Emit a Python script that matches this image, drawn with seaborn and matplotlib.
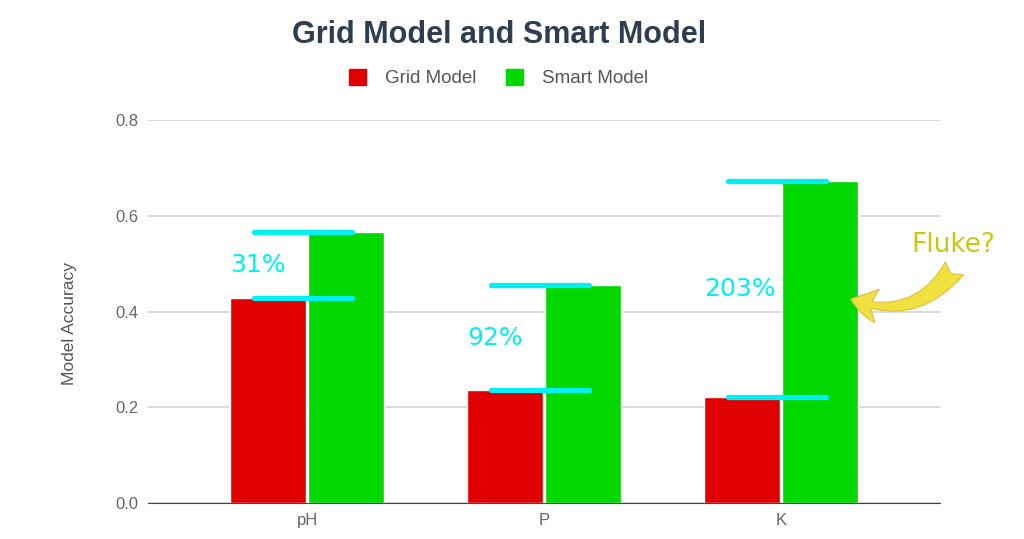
import pandas as pd
import matplotlib.pyplot as plt
import seaborn as sns

# Data
nutrients = ['pH', 'P', 'K']
grid_acc = [0.428, 0.236, 0.221]
smart_acc = [0.566, 0.455, 0.673]
gain_labels = ['31%', '92%', '203%']

df = pd.DataFrame({
    'Nutrient': nutrients * 2,
    'Accuracy': grid_acc + smart_acc,
    'Model': ['Grid Model'] * 3 + ['Smart Model'] * 3,
})

sns.set_style('white')
plt.rcParams['font.family'] = ['Liberation Sans', 'DejaVu Sans']

fig = plt.figure(figsize=(10.24, 5.39), dpi=100)
ax = fig.add_axes([0.1445, 0.0668, 0.7735, 0.7105])

sns.barplot(data=df, x='Nutrient', y='Accuracy', hue='Model',
            palette={'Grid Model': '#e00000', 'Smart Model': '#00d800'},
            saturation=1, width=0.66, gap=0.025, ax=ax, legend=False)

ax.set_ylim(0, 0.8)
ax.set_xlim(-0.672, 2.672)
ax.set_yticks([0, 0.2, 0.4, 0.6, 0.8])
ax.set_yticklabels(['0.0', '0.2', '0.4', '0.6', '0.8'])
ax.yaxis.grid(True, color='#d4d4d4', linewidth=1.2)
ax.set_axisbelow(True)
for side in ['top', 'right', 'left']:
    ax.spines[side].set_visible(False)
ax.spines['bottom'].set_color('#444444')
ax.tick_params(axis='both', length=0, colors='#666666', labelsize=12, pad=7)
ax.set_xlabel('')
ax.set_ylabel('Model Accuracy', color='#555555', fontsize=12.5)
ax.yaxis.set_label_coords(-0.09, 0.47)

# Cyan markers showing the improvement
for i, (g, s, lab) in enumerate(zip(grid_acc, smart_acc, gain_labels)):
    ax.hlines([g, s], i - 0.224, i + 0.19, color='#00f0f4', linewidth=3.8,
              capstyle='round')
    ax.text(i - 0.325, (g + s) / 2, lab, color='#00f0f4', fontsize=18,
            family=['DejaVu Sans'], ha='left', va='center')

# Fluke annotation
ax.annotate('', xy=(2.285, 0.428), xytext=(2.74, 0.495),
            arrowprops=dict(arrowstyle='fancy,head_length=0.6,head_width=0.75,tail_width=0.5',
                            connectionstyle='arc3,rad=-0.4', mutation_scale=32,
                            fc='#f0e040', ec='#e0c040', lw=0.8),
            annotation_clip=False)
fig.text(0.931, 0.545, 'Fluke?', color='#c8c814', fontsize=19,
         family=['DejaVu Sans'], ha='center', va='center')

# Title and legend
fig.text(0.487, 0.935, 'Grid Model and Smart Model', fontsize=22, fontweight='bold',
         color='#2e3e50', ha='center', va='center')
handles = [plt.Rectangle((0, 0), 1, 1, color='#e00000'),
           plt.Rectangle((0, 0), 1, 1, color='#00d800')]
leg = fig.legend(handles, ['Grid Model', 'Smart Model'], loc='center',
                 bbox_to_anchor=(0.487, 0.855), ncol=2, frameon=False,
                 fontsize=13.5, handlelength=0.9, handleheight=0.9,
                 columnspacing=1.6, handletextpad=1.0)
for t in leg.get_texts():
    t.set_color('#555555')

fig.savefig('out.png', dpi=100)
